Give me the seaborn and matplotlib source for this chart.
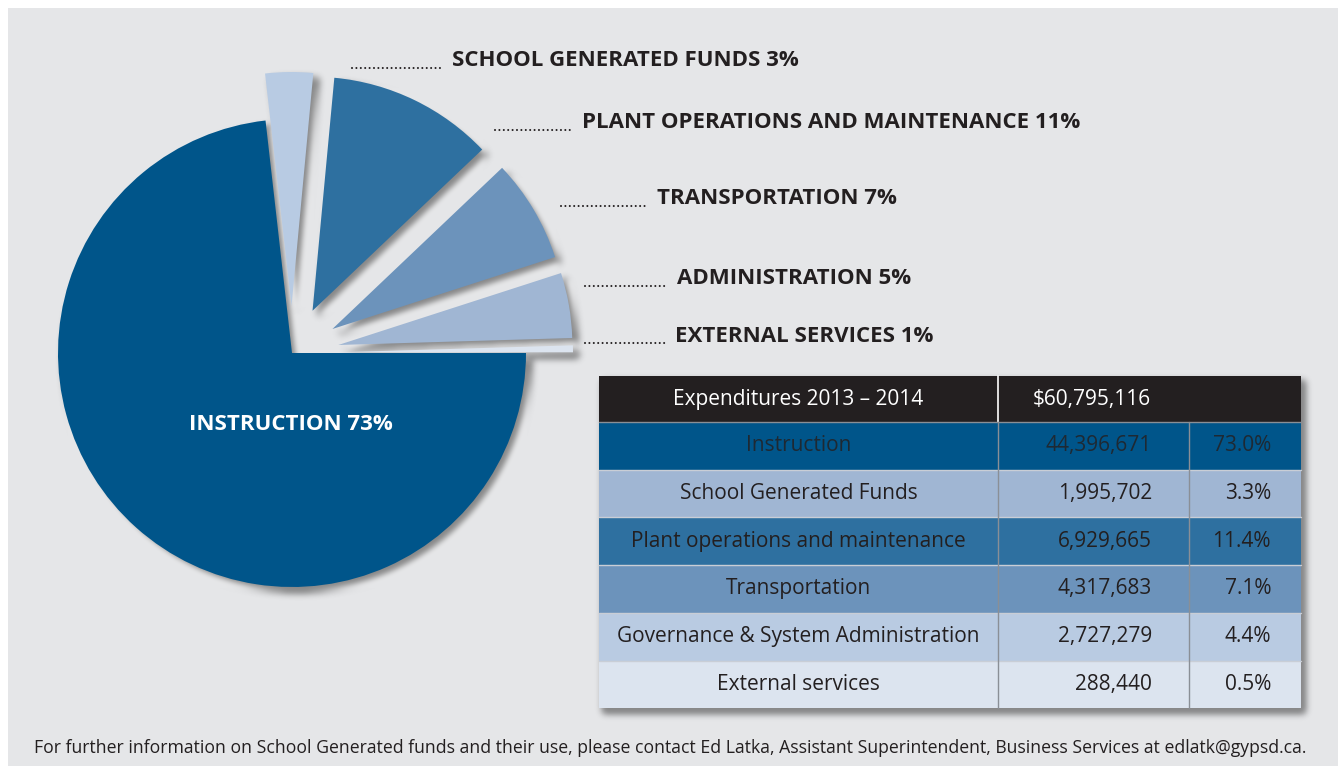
import numpy as np
import matplotlib

matplotlib.use("Agg")
import matplotlib.pyplot as plt
import matplotlib.patches as mpatches
import seaborn as sns

# ── Data ─────────────────────────────────────────────────────────────────────
categories = [
    "Instruction",
    "School Generated Funds",
    "Plant operations and maintenance",
    "Transportation",
    "Governance & System Administration",
    "External services",
]
amounts = [44396671, 1995702, 6929665, 4317683, 2727279, 288440]
pct_labels = ["73.0%", "3.3%", "11.4%", "7.1%", "4.4%", "0.5%"]
pie_labels = [
    "INSTRUCTION 73%",
    "SCHOOL GENERATED FUNDS 3%",
    "PLANT OPERATIONS AND MAINTENANCE 11%",
    "TRANSPORTATION 7%",
    "ADMINISTRATION 5%",
    "EXTERNAL SERVICES 1%",
]
header_label = "Expenditures 2013 \u2013 2014"
total_label = "$60,795,116"
footer = ("For further information on School Generated funds and their use, please contact "
          "Ed Latka, Assistant Superintendent, Business Services at edlatk@gypsd.ca.")

pie_colors = ["#00558a", "#b8cbe3", "#2e70a0", "#6c93bb", "#a0b6d3", "#dce4ef"]
row_colors = ["#00558a", "#a0b6d3", "#2e70a0", "#6c93bb", "#b9cbe2", "#dce4ef"]
row_text_colors = ["#1e2933", "#231f20", "#231f20", "#231f20", "#231f20", "#231f20"]

# ── Layout (pixels) ──────────────────────────────────────────────────────────
W, H = 1338, 766
BG = "#e5e6e8"
DARK = "#231f20"
PIE_CX, PIE_CY, PIE_R = 292, 353, 234
EXPLODE_PX = 47

# callouts for the small slices: dots start, text start, text centre y
callout_dot_x = [352, 495, 561, 585, 585]
callout_text_x = [452, 582, 657, 677, 675]
callout_y = [61, 123, 199, 279, 336]

TBL_X = [599, 998, 1189, 1301]
TBL_HEAD = (376, 422)
ROW_H = 47.7

FONT = "Open Sans"
LABEL_SIZE = 16
TABLE_SIZE = 15
FOOTER_SIZE = 12.7


def blur_filter(sigma):
    """Agg filter: gaussian blur used for the soft drop shadows."""
    pad = int(3 * sigma)
    xs = np.arange(-pad, pad + 1)
    kern = np.exp(-xs ** 2 / (2.0 * sigma ** 2))
    kern /= kern.sum()

    def _process(img, dpi):
        a = np.pad(img, ((pad, pad), (pad, pad), (0, 0)))
        for axis in (0, 1):
            out = np.zeros_like(a)
            for i, k in zip(xs, kern):
                out += k * np.roll(a, i, axis=axis)
            a = out
        return a, -pad, -pad

    return _process


sns.set_theme(style="white")
plt.rcParams["font.family"] = [FONT, "DejaVu Sans"]

fig = plt.figure(figsize=(W / 100, H / 100), dpi=100, facecolor="white")

# background / table / text axes (pixel coords, y down)
ax = fig.add_axes([0, 0, 1, 1])
ax.set_xlim(0, W)
ax.set_ylim(H, 0)
ax.axis("off")
ax.add_patch(mpatches.Rectangle((8, 8), W - 8, H - 8, facecolor=BG, edgecolor="none", zorder=0))

# ── Pie ──────────────────────────────────────────────────────────────────────
axp = fig.add_axes([0, 0, 1, 1])
axp.patch.set_alpha(0)
explode = [0.0] + [EXPLODE_PX] * (len(amounts) - 1)
wedges, _ = axp.pie(
    amounts,
    colors=pie_colors,
    explode=explode,
    startangle=0,
    counterclock=False,
    center=(PIE_CX, H - PIE_CY),
    radius=PIE_R,
    wedgeprops={"linewidth": 0},
    shadow={"ox": 4.0, "oy": -4.0, "facecolor": "#6f6f6f", "edgecolor": "none", "alpha": 0.8},
)
for p in axp.patches:
    if isinstance(p, mpatches.Shadow):
        p.set_agg_filter(blur_filter(3.5))
        p.set_rasterized(True)
axp.set_xlim(0, W)
axp.set_ylim(0, H)
axp.set_aspect("auto")
axp.axis("off")

axp.text(PIE_CX - 1, H - 425, pie_labels[0], color="white", fontsize=LABEL_SIZE,
         fontweight="bold", ha="center", va="center")

# callouts
for lab, x0, tx, y in zip(pie_labels[1:], callout_dot_x, callout_text_x, callout_y):
    ax.plot([x0, tx - 9], [y + 7, y + 7], color=DARK, linestyle=(0, (0.01, 2.1)),
            linewidth=1.5, solid_capstyle="round", dash_capstyle="round")
    ax.text(tx, y, lab, color=DARK, fontsize=LABEL_SIZE, fontweight="bold",
            ha="left", va="center")

# ── Table ────────────────────────────────────────────────────────────────────
x0, x1, x2, x3 = TBL_X
h0, h1 = TBL_HEAD
tbl_bottom = h1 + ROW_H * len(categories)
shadow = mpatches.Rectangle((x0 + 4, h0 + 5), x3 - x0, tbl_bottom - h0, facecolor="#6f6f6f",
                            edgecolor="none", alpha=0.8, zorder=1)
shadow.set_agg_filter(blur_filter(3.5))
shadow.set_rasterized(True)
ax.add_patch(shadow)

ax.add_patch(mpatches.Rectangle((x0, h0), x3 - x0, h1 - h0, facecolor=DARK, edgecolor="none", zorder=2))
ax.plot([x1, x1], [h0, h1], color="white", linewidth=1.2, zorder=3)
ax.text((x0 + x1) / 2, (h0 + h1) / 2, header_label, color="white", fontsize=TABLE_SIZE,
        ha="center", va="center", zorder=4)
ax.text(x1 + 35, (h0 + h1) / 2, total_label, color="white", fontsize=TABLE_SIZE,
        ha="left", va="center", zorder=4)

for i, (cat, amt, pct) in enumerate(zip(categories, amounts, pct_labels)):
    top = h1 + i * ROW_H
    mid = top + ROW_H / 2
    ax.add_patch(mpatches.Rectangle((x0, top), x3 - x0, ROW_H, facecolor=row_colors[i],
                                    edgecolor="none", zorder=2))
    ax.plot([x0, x3], [top, top], color="#c9ced6" if i else "#8a8f96", linewidth=1.0, zorder=3)
    tc = row_text_colors[i]
    ax.text((x0 + x1) / 2, mid, cat, color=tc, fontsize=TABLE_SIZE, ha="center", va="center", zorder=4)
    ax.text(x2 - 37, mid, f"{amt:,}", color=tc, fontsize=TABLE_SIZE, ha="right", va="center", zorder=4)
    ax.text(x3 - 30, mid, pct, color=tc, fontsize=TABLE_SIZE, ha="right", va="center", zorder=4)

for xv in (x1, x2):
    ax.plot([xv, xv], [h1, tbl_bottom], color="#8a8f96", linewidth=1.0, zorder=3)

# ── Footer ───────────────────────────────────────────────────────────────────
ax.text(34, 748, footer, color=DARK, fontsize=FOOTER_SIZE, ha="left", va="center")

fig.savefig("out.png", dpi=100, facecolor=fig.get_facecolor())
